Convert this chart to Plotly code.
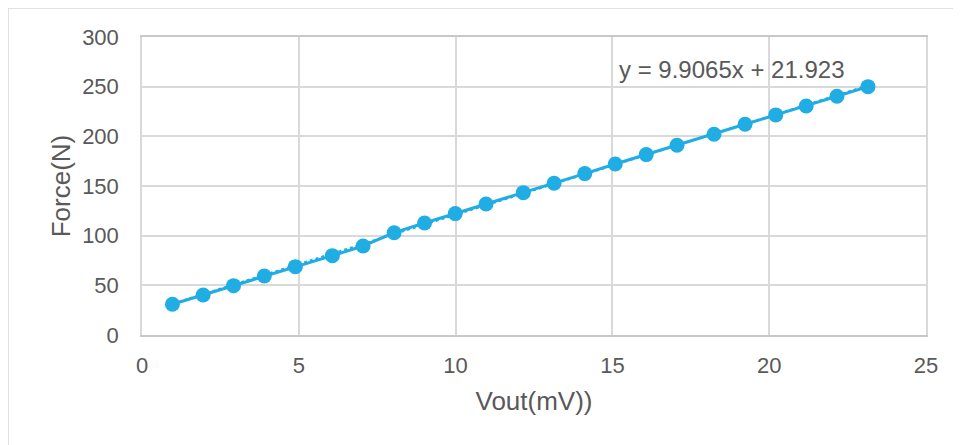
import plotly.graph_objects as go

# Data
vout_mv = [0.97, 1.95, 2.92, 3.90, 4.89, 6.07, 7.05, 8.04, 9.01, 9.99, 10.97, 12.16,
           13.14, 14.12, 15.09, 16.08, 17.06, 18.24, 19.23, 20.21, 21.18, 22.16, 23.15]
force_n = [31.0, 40.3, 49.7, 59.4, 68.8, 79.9, 89.6, 103.0, 112.8, 122.2, 131.9, 143.3,
           152.8, 162.5, 172.2, 181.6, 191.0, 202.1, 212.2, 221.6, 230.6, 240.4, 250.0]

slope = 9.9065
intercept = 21.923
trend_x = [min(vout_mv), max(vout_mv)]
trend_y = [slope * v + intercept for v in trend_x]

x_ticks = [0, 5, 10, 15, 20, 25]
y_ticks = [0, 50, 100, 150, 200, 250, 300]

blue = "#1fade4"
grid = "#d9d9d9"
text_col = "#595959"
font = "Liberation Sans, Arial, sans-serif"

fig = go.Figure()
fig.add_trace(go.Scatter(x=trend_x, y=trend_y, mode="lines",
                         line=dict(color=blue, width=2, dash="dot"),
                         showlegend=False, hoverinfo="skip"))
fig.add_trace(go.Scatter(x=vout_mv, y=force_n, mode="lines+markers",
                         line=dict(color=blue, width=3),
                         marker=dict(color=blue, size=15),
                         showlegend=False))

fig.add_annotation(x=18.81, y=266.8, text=f"y = {slope}x + {intercept}",
                   showarrow=False, font=dict(family=font, size=24, color=text_col),
                   xanchor="center", yanchor="middle")

# outer chart border
fig.add_shape(type="rect", xref="paper", yref="paper",
              x0=-0.1709, x1=1.2, y0=-0.6, y1=1.0973,
              line=dict(color=grid, width=1.5), fillcolor="rgba(0,0,0,0)", layer="below")

fig.update_layout(
    width=961, height=445,
    margin=dict(l=134, r=43, t=29, b=118),
    paper_bgcolor="white", plot_bgcolor="white",
    font=dict(family=font, color=text_col),
    xaxis=dict(range=[0, 25], tickvals=x_ticks, showgrid=True, gridcolor=grid, gridwidth=1.5,
               showline=True, linecolor="#c8c8c8", linewidth=1.5, mirror=True, zeroline=False,
               tickfont=dict(size=22, color=text_col), ticks="", ticklabelstandoff=10,
               title=dict(text="Vout(mV))", font=dict(size=26, color=text_col), standoff=15)),
    yaxis=dict(range=[0, 300], tickvals=y_ticks, showgrid=True, gridcolor=grid, gridwidth=1.5,
               showline=True, linecolor=grid, linewidth=1.5, mirror=True, zeroline=False,
               tickfont=dict(size=22, color=text_col), ticks="", ticklabelstandoff=17,
               title=dict(text="Force(N)", font=dict(size=26, color=text_col), standoff=4)),
)

fig.write_html("out.html")
